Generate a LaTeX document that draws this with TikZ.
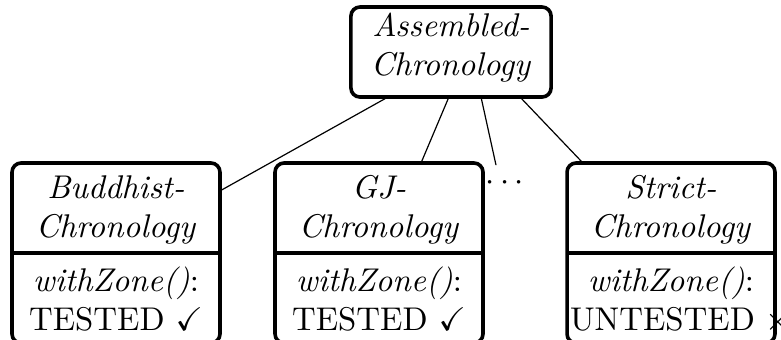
\documentclass[tikz,border=0pt]{standalone}
\usepackage{amssymb}
\usetikzlibrary{shapes.multipart}

% struts setting the room above the first and below the last baseline
\newcommand{\hstrut}[1]{\rule{0pt}{#1}}
\newcommand{\dstrut}[1]{\rule[-#1]{0pt}{#1}}

\begin{document}
\begin{tikzpicture}[x=0.3333pt,y=-0.3333pt,font=\fontsize{10.95}{13}\selectfont,chronA/.style={shape=rectangle,draw=black,very thick,rounded corners=3pt,minimum width=66.7pt,inner ysep=0pt,outer sep=0pt,align=center},chron/.style={shape=rectangle split,rectangle split parts=2,draw=black,very thick,rounded corners=3pt,text width=67.3pt,align=center,inner xsep=1pt,inner ysep=0pt,outer sep=0pt,anchor=north}]
\def\ytop{163};
\useasboundingbox (0,0) rectangle (781,339);

\node[chronA] (A) at (451,52) {\hstrut{9.7pt}\textit{Assembled-}\\\textit{Chronology}\dstrut{7.3pt}};

\node[chron] (B) at (116,\ytop) {\hstrut{11.3pt}\textit{Buddhist-}\\\textit{Chronology}\dstrut{4.5pt}\nodepart{two}\hstrut{12.3pt}\textit{withZone()}:\\TESTED~$\checkmark$\dstrut{3.5pt}};
\draw ([xshift=-21pt]A.south) -- ([yshift=-9.3pt]B.north east);
\node[chron] (G) at (379,\ytop) {\hstrut{11.3pt}\textit{GJ-}\\\textit{Chronology}\dstrut{4.5pt}\nodepart{two}\hstrut{12.3pt}\textit{withZone()}:\\TESTED~$\checkmark$\dstrut{3.5pt}};
\draw ([xshift=-0.7pt]A.south) -- ([xshift=14pt]G.north);
\node (dots) at (505,183) {$\cdots$};
\draw ([xshift=10pt]A.south) -- ([xshift=-3pt]dots.north);
\node[chron] (S) at (671,\ytop) {\hstrut{11.3pt}\textit{Strict-}\\\textit{Chronology}\dstrut{4.5pt}\nodepart{two}\hstrut{12.3pt}\textit{withZone()}:\\UNTESTED~$\times$\dstrut{3.5pt}};
\draw ([xshift=23pt]A.south) -- ([xshift=5.3pt]S.north west);
\end{tikzpicture}
\end{document}
